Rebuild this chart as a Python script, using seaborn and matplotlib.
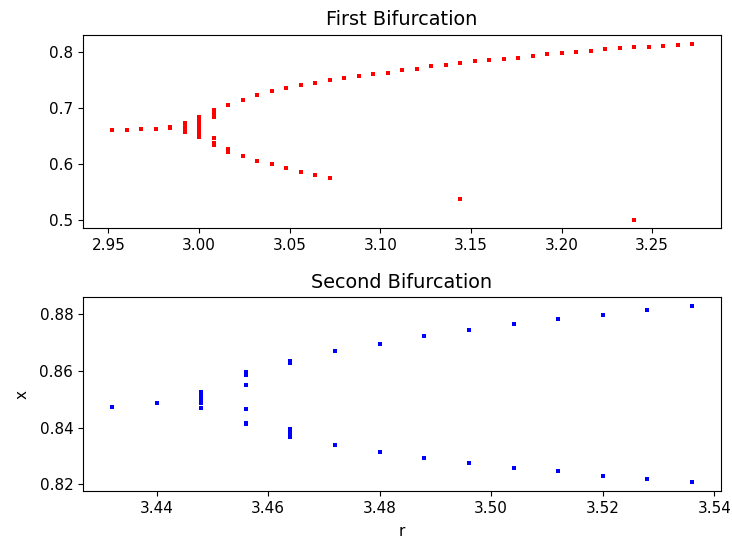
import numpy as np
import pandas as pd
import matplotlib
matplotlib.use('Agg')
import matplotlib.pyplot as plt
import seaborn as sns

# first bifurcation
r_first = [2.952, 2.960, 2.968, 2.976, 2.984, 2.984,
           2.992, 2.992, 2.992, 2.992, 2.992,
           3.000, 3.000, 3.000, 3.000, 3.000, 3.000, 3.000,
           3.008, 3.008, 3.008, 3.008, 3.008, 3.008,
           3.016, 3.016, 3.016,
           3.024, 3.024, 3.032, 3.032, 3.040, 3.040, 3.048, 3.048,
           3.056, 3.056, 3.064, 3.064, 3.072, 3.072,
           3.080, 3.088, 3.096, 3.104, 3.112, 3.120, 3.128, 3.136,
           3.144, 3.144, 3.152, 3.160, 3.168, 3.176, 3.184, 3.192, 3.200,
           3.208, 3.216, 3.224, 3.232, 3.240, 3.240, 3.248, 3.256, 3.264, 3.272]
x_first = [0.661, 0.661, 0.663, 0.663, 0.664, 0.666,
           0.658, 0.662, 0.666, 0.670, 0.674,
           0.668, 0.674, 0.680, 0.685, 0.649, 0.655, 0.661,
           0.684, 0.690, 0.696, 0.646, 0.637, 0.634,
           0.706, 0.626, 0.622,
           0.715, 0.614, 0.724, 0.606, 0.730, 0.599, 0.736, 0.592,
           0.741, 0.586, 0.746, 0.580, 0.750, 0.575,
           0.754, 0.758, 0.762, 0.764, 0.769, 0.771, 0.775, 0.778,
           0.782, 0.537, 0.784, 0.786, 0.788, 0.790, 0.7945, 0.797, 0.799,
           0.801, 0.803, 0.8055, 0.808, 0.810, 0.500, 0.810, 0.812, 0.814, 0.816]

# second bifurcation
r_second = [3.432, 3.440,
            3.448, 3.448, 3.448, 3.448, 3.448,
            3.456, 3.456, 3.456, 3.456, 3.456, 3.456,
            3.464, 3.464, 3.464, 3.464, 3.464,
            3.472, 3.472, 3.480, 3.480, 3.488, 3.488, 3.496, 3.496,
            3.504, 3.504, 3.512, 3.512, 3.520, 3.520, 3.528, 3.528,
            3.536, 3.536]
x_second = [0.8473, 0.8486,
            0.8470, 0.8485, 0.8500, 0.8512, 0.8524,
            0.8595, 0.8586, 0.8551, 0.8464, 0.8416, 0.8412,
            0.8635, 0.8629, 0.8395, 0.8380, 0.8368,
            0.8669, 0.8340, 0.8695, 0.8314, 0.8721, 0.8294, 0.8742, 0.8277,
            0.8764, 0.8258, 0.8781, 0.8247, 0.8797, 0.8230, 0.8814, 0.8220,
            0.8828, 0.8208]

df1 = pd.DataFrame({'r': r_first, 'x': x_first})
df2 = pd.DataFrame({'r': r_second, 'x': x_second})

plt.rcParams['xtick.labelsize'] = 11
plt.rcParams['ytick.labelsize'] = 11
plt.rcParams['axes.labelsize'] = 11
plt.rcParams['axes.titlesize'] = 13.9

fig, (ax1, ax2) = plt.subplots(2, 1, figsize=(7.32, 5.43), dpi=100)
fig.subplots_adjust(left=0.1134, right=0.985, top=0.936, bottom=0.0958, hspace=0.355)

sns.scatterplot(data=df1, x='r', y='x', ax=ax1, color='red', marker='s', s=8, linewidth=0)
ax1.set_title('First Bifurcation', pad=7)
ax1.set_xlabel('')
ax1.set_ylabel('')

sns.scatterplot(data=df2, x='r', y='x', ax=ax2, color='blue', marker='s', s=8, linewidth=0)
ax2.set_title('Second Bifurcation', pad=7)
ax2.set_xlabel('r', labelpad=6)
ax2.set_ylabel('x', labelpad=7)

plt.savefig('out.png', dpi=100)
